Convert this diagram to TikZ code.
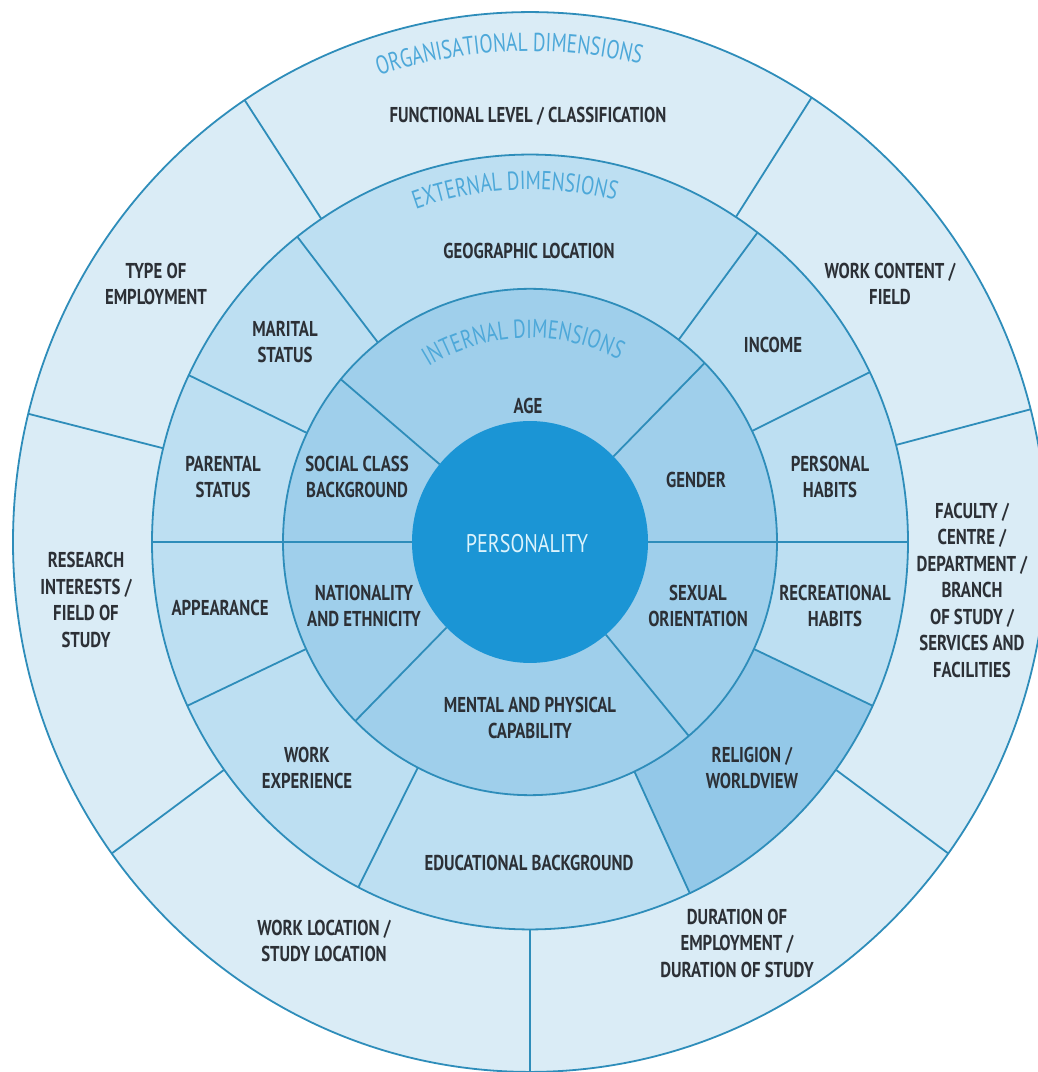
\documentclass[tikz,border=0pt]{standalone}
\usepackage{fontspec}
\usetikzlibrary{decorations.text}
\newfontfamily\lblfont[FakeStretch=0.78]{PT Sans}
\newfontfamily\ttlfont[FakeStretch=0.74]{PT Sans}
\newfontfamily\corefont[FakeStretch=0.79]{PT Sans}
\definecolor{ringO}{HTML}{DAECF6}
\definecolor{ringE}{HTML}{BDDFF2}
\definecolor{ringI}{HTML}{9FCFEB}
\definecolor{relig}{HTML}{93C8E8}
\definecolor{core}{HTML}{1B95D5}
\definecolor{edge}{HTML}{2E8DBA}
\definecolor{ttl}{HTML}{4DA8D9}
\definecolor{txt}{HTML}{2C3036}
\definecolor{coretxt}{HTML}{DCF3FC}
\newcommand\ttlstyle{\ttlfont\fontsize{26}{26}\selectfont\color{ttl}}
\begin{document}
\begin{tikzpicture}[x=1pt,y=1pt,
  lbl/.style={font=\lblfont\bfseries\fontsize{21.5}{26.5}\selectfont, text=txt, align=center, inner sep=0pt},
  divider/.style={draw=edge, line width=1.8pt},
  ringtitle/.style={decorate, decoration={text along path, text align=center, text={|\ttlstyle|#1}}}
]
\clip (0,0) rectangle (1038,1072);
\fill[white] (0,0) rectangle (1038,1072);
\begin{scope}[shift={(530,530)}, yscale=1.025]
  % ring fills
  \fill[ringO] (0,0) circle[radius=517];
  \fill[ringE] (0,0) circle[radius=378];
  \fill[ringI] (0,0) circle[radius=247];
  \fill[relig] (-65:247) arc[start angle=-65, end angle=-25, radius=247]
     -- (-25:378) arc[start angle=-25, end angle=-65, radius=378] -- cycle;
  % ring outlines
  \draw[divider] (0,0) circle[radius=517];
  \draw[divider] (0,0) circle[radius=378];
  \draw[divider] (0,0) circle[radius=247];
  % radial dividers
  \foreach \a in {140,45,-50,225}
    \draw[divider] (\a:118) -- (\a:247);
  \foreach \a in {0,180}
    \draw[divider] (\a:118) -- (\a:378);
  \foreach \a in {128,53,26,-25,-65,243,205,154.5}
    \draw[divider] (\a:247) -- (\a:378);
  \foreach \a in {123.5,57,14.5,-36,-90,216,166}
    \draw[divider] (\a:378) -- (\a:517);
  % core
  \fill[core] (0,0) circle[radius=118];
  % ring titles
  \path[ringtitle={ORGANISATIONAL DIMENSIONS}] (127.5:479) arc[start angle=127.5, end angle=57.5, radius=479];
  \path[ringtitle={EXTERNAL DIMENSIONS}] (132.5:344) arc[start angle=132.5, end angle=52.5, radius=344];
  \path[ringtitle={INTERNAL DIMENSIONS}] (142:199) arc[start angle=142, end angle=42, radius=199];
\end{scope}
% core label
\node[font=\corefont\fontsize{25.5}{25.5}\selectfont, text=coretxt, inner sep=0pt] (pers) at (527,528) {PERSONALITY};
% internal ring
\node[lbl] (age) at (528,666) {AGE};
\node[lbl] (gender) at (696,592) {GENDER};
\node[lbl] (sexual) at (698,466) {SEXUAL\\ORIENTATION};
\node[lbl] (mental) at (530,354) {MENTAL AND PHYSICAL\\CAPABILITY};
\node[lbl] (nation) at (364,466) {NATIONALITY\\AND ETHNICITY};
\node[lbl] (social) at (357,595) {SOCIAL CLASS\\BACKGROUND};
% external ring
\node[lbl] (geo) at (529,821) {GEOGRAPHIC LOCATION};
\node[lbl] (income) at (773,727) {INCOME};
\node[lbl] (personal) at (830,595) {PERSONAL\\HABITS};
\node[lbl] (recre) at (835,466) {RECREATIONAL\\HABITS};
\node[lbl] (religion) at (752,304) {RELIGION /\\WORLDVIEW};
\node[lbl] (edu) at (529,209) {EDUCATIONAL BACKGROUND};
\node[lbl] (workexp) at (307,304) {WORK\\EXPERIENCE};
\node[lbl] (appear) at (220,464) {APPEARANCE};
\node[lbl] (parental) at (223,595) {PARENTAL\\STATUS};
\node[lbl] (marital) at (285,730) {MARITAL\\STATUS};
% organisational ring
\node[lbl] (func) at (528,956) {FUNCTIONAL LEVEL / CLASSIFICATION};
\node[lbl] (content) at (890,788) {WORK CONTENT /\\FIELD};
\node[lbl] (faculty) at (972,482) {FACULTY /\\CENTRE /\\DEPARTMENT /\\BRANCH\\OF STUDY /\\SERVICES AND\\FACILITIES};
\node[lbl] (duration) at (737,129) {DURATION OF\\EMPLOYMENT /\\DURATION OF STUDY};
\node[lbl] (location) at (324,131) {WORK LOCATION /\\STUDY LOCATION};
\node[lbl] (research) at (86,472) {RESEARCH\\INTERESTS /\\FIELD OF\\STUDY};
\node[lbl] (type) at (156,788) {TYPE OF\\EMPLOYMENT};
\end{tikzpicture}
\end{document}
